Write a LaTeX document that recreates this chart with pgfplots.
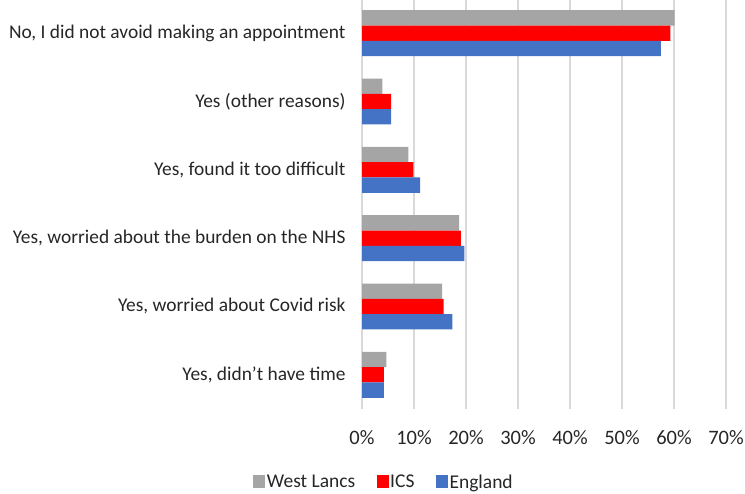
\documentclass[border=0pt]{standalone}
\usepackage{pgfplots}
\pgfplotsset{compat=1.18}
\usepackage{fontspec}
\setmainfont{Carlito}
\definecolor{cgray}{HTML}{A5A5A5}
\definecolor{cred}{HTML}{FF0000}
\definecolor{cblue}{HTML}{4472C4}
\definecolor{cgrid}{HTML}{D9D9D9}
\definecolor{ctext}{HTML}{262626}
\begin{document}
\begin{tikzpicture}
\useasboundingbox (0,0) rectangle (745bp,494bp);
\begin{axis}[
  at={(362bp,85bp)}, anchor=south west,
  scale only axis,
  width=364bp, height=410bp,
  xbar, bar width=0.224,
  xmin=0, xmax=70,
  ymin=-0.5, ymax=5.5,
  xtick={0,10,...,70},
  xticklabel={\pgfmathprintnumber{\tick}\%},
  /pgf/number format/assume math mode=true,
  ytick={0,1,2,3,4,5},
  yticklabels={{Yes, didn't have time},{Yes, worried about Covid risk},{Yes, worried about the burden on the NHS},{Yes, found it too difficult},{Yes (other reasons)},{No, I did not avoid making an appointment}},
  major tick length=0pt,
  xmajorgrids, grid style={cgrid, line width=1.2bp},
  axis line style={draw=none},
  tick label style={font=\fontsize{19.4bp}{22bp}\selectfont, text=ctext},
  x tick label style={yshift=-18bp, font=\fontsize{20.5bp}{23bp}\selectfont},
  y tick label style={xshift=-13bp},
  legend columns=3,
  legend style={draw=none, fill=none, at={(axis description cs:0.06,-0.178)}, anchor=center,
    font=\fontsize{19.5bp}{22bp}\selectfont, text=ctext,
    nodes={inner xsep=1.5bp},
    /tikz/every odd column/.append style={column sep=0bp},
    /tikz/every even column/.append style={column sep=20bp}},
  legend image code/.code={\fill[#1] (0bp,-6.5bp) rectangle (12bp,6.5bp);},
]
\addplot[fill=cgray, draw=none, bar shift=0.224] coordinates {(60.1,5) (3.9,4) (8.9,3) (18.7,2) (15.4,1) (4.7,0)};
\addplot[fill=cred, draw=none, bar shift=0] coordinates {(59.3,5) (5.6,4) (9.9,3) (19.0,2) (15.7,1) (4.2,0)};
\addplot[fill=cblue, draw=none, bar shift=-0.224] coordinates {(57.5,5) (5.6,4) (11.2,3) (19.7,2) (17.4,1) (4.2,0)};
\legend{West Lancs, ICS, England}
\end{axis}
\end{tikzpicture}
\end{document}
